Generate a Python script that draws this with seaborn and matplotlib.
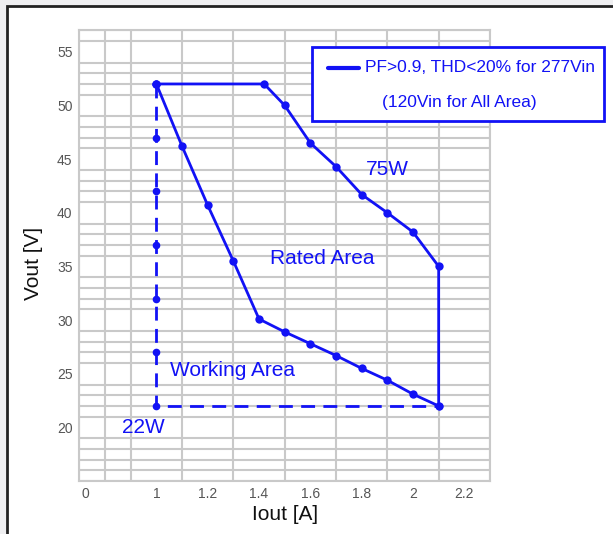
import numpy as np
import pandas as pd
import seaborn as sns
import matplotlib
matplotlib.use("Agg")
import matplotlib.pyplot as plt
import matplotlib.patches as mpatches
from matplotlib.lines import Line2D

# rated area outline (solid), clockwise from the top-left corner
iout_rated = [1.0, 1.42, 1.5, 1.6, 1.7, 1.8, 1.9, 2.0, 2.1,
              2.1, 2.0, 1.9, 1.8, 1.7, 1.6, 1.5, 1.4, 1.3, 1.2, 1.1, 1.0]
vout_rated = [52, 52, 50, 46.5, 44.3, 41.7, 40, 38.2, 35,
              22, 23.1, 24.4, 25.5, 26.7, 27.8, 28.9, 30.1, 35.5, 40.7, 46.2, 52]

# working area outline (dashed)
iout_work = [1.0, 1.0, 1.0, 1.0, 1.0, 1.0, 1.0, 2.1]
vout_work = [52, 47, 42, 37, 32, 27, 22, 22]

# x axis is compressed: "0" sits just right of the left edge
xtick_pos = [0.725, 1.0, 1.2, 1.4, 1.6, 1.8, 2.0, 2.2]
xtick_labels = ["0", "1", "1.2", "1.4", "1.6", "1.8", "2", "2.2"]
ytick_pos = [20, 25, 30, 35, 40, 45, 50, 55]

notes = [("75W", 1.90, 44.0), ("Rated Area", 1.645, 35.7),
         ("Working Area", 1.295, 25.3), ("22W", 0.95, 20.0)]

legend_lines = ["PF>0.9, THD<20% for 277Vin", "(120Vin for All Area)"]

BLUE = "#1212f5"
GRID = "#c9c9c9"

sns.set_style("white")
plt.rcParams["font.family"] = ["Liberation Sans", "DejaVu Sans"]

W, H = 613, 534
fig = plt.figure(figsize=(W / 100, H / 100), dpi=100)
fig.patch.set_facecolor("#efeff1")
# white card with a dark border (left/top edges visible)
fig.patches.append(mpatches.Rectangle((7 / W, -0.1), 1.2, 1.1 - 6 / H,
                                      transform=fig.transFigure, facecolor="white",
                                      edgecolor="#222222", lw=2, zorder=-1))

ax = fig.add_axes([79.4 / W, 1 - 481.1 / H, 410.6 / W, 450.8 / H])
ax.set_facecolor("white")

df_rated = pd.DataFrame({"iout": iout_rated, "vout": vout_rated})
df_work = pd.DataFrame({"iout": iout_work, "vout": vout_work})

sns.lineplot(data=df_work, x="iout", y="vout", sort=False, estimator=None,
             color=BLUE, lw=2, linestyle=(0, (5, 3)), marker="o", markersize=5.5,
             markeredgewidth=0, ax=ax, zorder=3)
sns.lineplot(data=df_rated, x="iout", y="vout", sort=False, estimator=None,
             color=BLUE, lw=2, marker="o", markersize=6,
             markeredgewidth=0, ax=ax, zorder=4)

ax.set_xlim(0.7, 2.3)
ax.set_ylim(15, 57)
ax.set_xticks(xtick_pos)
ax.set_xticklabels(xtick_labels)
ax.set_yticks(ytick_pos)
ax.set_xticks(np.arange(0.7, 2.31, 0.1), minor=True)
ax.set_yticks(np.arange(15, 57.1, 1), minor=True)
ax.grid(False)
ax.grid(which="minor", color=GRID, lw=1.5)
ax.set_axisbelow(True)
ax.tick_params(which="both", length=0)
ax.tick_params(axis="y", labelsize=10, labelcolor="#555555", pad=5)
ax.tick_params(axis="x", labelsize=10, labelcolor="#555555", pad=4)
for s in ax.spines.values():
    s.set_color(GRID)
    s.set_linewidth(1.5)

ax.set_xlabel("Iout [A]", fontsize=15, color="#111111")
ax.set_ylabel("Vout [V]", fontsize=15, color="#111111")
ax.xaxis.set_label_coords(0.502, -0.073)
ax.xaxis.label.set_va("center")
ax.yaxis.set_label_coords(-0.111, 0.482)
ax.yaxis.label.set_va("center")

for txt, x, y in notes:
    ax.text(x, y, txt, color=BLUE, fontsize=15, ha="center", va="center", zorder=5)

# legend box, drawn in figure pixels since it runs past the plot edge
def fx(px):
    return px / W


def fy(py):
    return 1 - py / H


fig.patches.append(mpatches.Rectangle((fx(312), fy(121)), fx(292), 74.3 / H,
                                      transform=fig.transFigure, facecolor="white",
                                      edgecolor=BLUE, lw=2, zorder=5))
fig.lines.append(Line2D([fx(328), fx(359)], [fy(68), fy(68)], color=BLUE, lw=3,
                        transform=fig.transFigure, zorder=6))
fig.text(fx(365), fy(68), legend_lines[0], color=BLUE, fontsize=12.5,
         ha="left", va="center", zorder=6)
fig.text(fx(459), fy(103), legend_lines[1], color=BLUE, fontsize=12.5,
         ha="center", va="center", zorder=6)

fig.savefig("out.png", dpi=100)
